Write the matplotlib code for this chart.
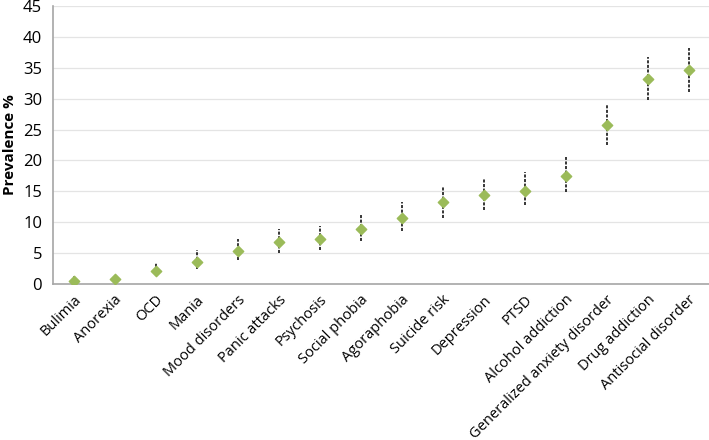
import matplotlib
matplotlib.use("Agg")
import matplotlib.pyplot as plt
import numpy as np

plt.rcParams['font.family'] = ['Open Sans', 'DejaVu Sans']

# prevalence estimates with lower/upper confidence limits
disorders = ['Bulimia', 'Anorexia', 'OCD', 'Mania', 'Mood disorders', 'Panic attacks',
             'Psychosis', 'Social phobia', 'Agoraphobia', 'Suicide risk', 'Depression',
             'PTSD', 'Alcohol addiction', 'Generalized anxiety disorder', 'Drug addiction',
             'Antisocial disorder']
prevalence = [0.4, 0.75, 2.15, 3.6, 5.3, 6.75, 7.2, 8.9, 10.7, 13.2, 14.35, 15.1, 17.5, 25.7, 33.2, 34.6]
lower = [0.0, 0.2, 1.2, 2.4, 3.8, 5.0, 5.4, 7.0, 8.5, 10.7, 11.9, 12.7, 14.8, 22.5, 29.8, 31.1]
upper = [1.3, 1.6, 3.4, 5.4, 7.3, 8.9, 9.4, 11.3, 13.3, 15.8, 17.0, 18.1, 20.5, 29.1, 36.8, 38.2]

fig = plt.figure(figsize=(7.09, 4.4), dpi=100)
ax = fig.add_axes([0.075, 0.355, 0.925, 0.631])

x = np.arange(len(disorders))
ax.vlines(x, lower, upper, colors='black', linestyles=(0, (2, 1)), linewidth=1.1, zorder=2)
ax.scatter(x, prevalence, marker='D', s=28, color='#9BBB59', zorder=3)

ax.set_xlim(-0.5, len(disorders) - 0.5)
ax.set_ylim(0, 45)
ax.set_yticks(range(0, 46, 5))
ax.yaxis.grid(True, color='#E4E4E4', linewidth=0.9)
ax.set_axisbelow(True)

ax.set_xticks(x)
ax.set_xticklabels(disorders, rotation=45, ha='right', rotation_mode='anchor', fontsize=10.5)
ax.tick_params(axis='y', labelsize=12, length=0, pad=8)
ax.tick_params(axis='x', length=0, pad=6)

ax.set_ylabel('Prevalence %', fontsize=11, fontweight='bold', labelpad=4)

for side in ['top', 'right']:
    ax.spines[side].set_visible(False)
for side in ['left', 'bottom']:
    ax.spines[side].set_color('#A6A6A6')
    ax.spines[side].set_linewidth(1.2)

fig.savefig('out.png', dpi=100)
